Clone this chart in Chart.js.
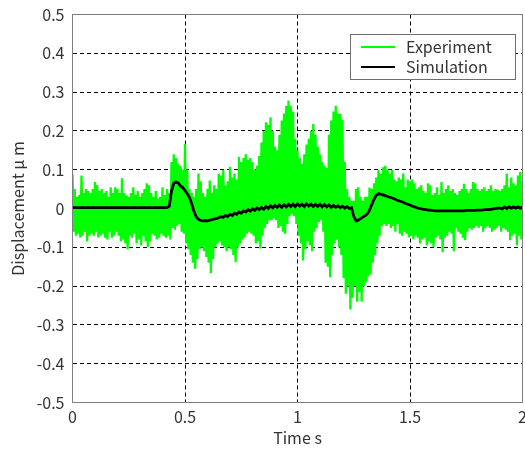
<!DOCTYPE html>
<html><head><meta charset="utf-8">
<script src="https://cdn.jsdelivr.net/npm/chart.js@4.4.1/dist/chart.umd.min.js"></script>
<style>html,body{margin:0;padding:0;background:#fff;}canvas{display:block;}</style>
</head><body>
<canvas id="c" width="525" height="452"></canvas>
<script>
const sampleStep = 0.01;

// Experiment: upper and lower extremes of the noisy trace in each 0.01 s slot (um)
const expHi = [
 0.088,0.05,0.03,0.035,0.085,0.04,0.05,0.045,0.04,0.05,
 0.068,0.06,0.045,0.05,0.04,0.045,0.03,0.055,0.04,0.055,
 0.05,0.04,0.078,0.04,0.034,0.03,0.04,0.055,0.035,0.045,
 0.03,0.04,0.05,0.065,0.06,0.04,0.03,0.045,0.025,0.03,
 0.055,0.035,0.05,0.04,0.12,0.14,0.13,0.115,0.11,0.1,
 0.167,0.1,0.05,0.04,0.03,0.05,0.09,0.07,0.04,0.03,
 0.05,0.072,0.04,0.06,0.05,0.09,0.085,0.1,0.06,0.07,
 0.107,0.08,0.09,0.075,0.133,0.12,0.13,0.14,0.125,0.13,
 0.12,0.1,0.11,0.135,0.17,0.2,0.222,0.215,0.235,0.2,
 0.16,0.15,0.19,0.227,0.245,0.265,0.278,0.265,0.25,0.18,
 0.15,0.13,0.115,0.14,0.165,0.18,0.2,0.218,0.19,0.16,
 0.14,0.12,0.11,0.105,0.19,0.227,0.25,0.265,0.245,0.244,
 0.228,0.12,0.05,0.03,0.02,0.02,0.05,0.055,0.03,0.02,
 0.03,0.03,0.054,0.05,0.065,0.08,0.1,0.09,0.106,0.11,
 0.1,0.09,0.1,0.075,0.07,0.08,0.075,0.09,0.055,0.075,
 0.07,0.075,0.065,0.05,0.055,0.06,0.045,0.04,0.065,0.06,
 0.035,0.04,0.055,0.035,0.068,0.04,0.05,0.06,0.045,0.05,
 0.04,0.035,0.045,0.05,0.064,0.05,0.04,0.05,0.068,0.065,
 0.05,0.045,0.05,0.055,0.045,0.05,0.06,0.045,0.05,0.048,
 0.045,0.05,0.06,0.09,0.055,0.08,0.065,0.06,0.085,0.094,
 0.07
];
const expLo = [
 -0.06,-0.07,-0.065,-0.075,-0.07,-0.06,-0.085,-0.07,-0.065,-0.07,
 -0.06,-0.075,-0.07,-0.065,-0.075,-0.08,-0.06,-0.075,-0.07,-0.06,
 -0.07,-0.085,-0.08,-0.09,-0.105,-0.07,-0.075,-0.065,-0.09,-0.08,
 -0.095,-0.07,-0.085,-0.1,-0.085,-0.065,-0.07,-0.08,-0.075,-0.065,
 -0.07,-0.075,-0.07,-0.08,-0.05,-0.055,-0.045,-0.04,-0.06,-0.065,
 -0.09,-0.105,-0.12,-0.14,-0.155,-0.13,-0.105,-0.1,-0.11,-0.125,
 -0.14,-0.167,-0.13,-0.1,-0.09,-0.085,-0.095,-0.1,-0.11,-0.1,
 -0.105,-0.12,-0.138,-0.1,-0.09,-0.08,-0.075,-0.065,-0.06,-0.065,
 -0.07,-0.09,-0.085,-0.103,-0.07,-0.05,-0.04,-0.03,-0.03,-0.025,
 -0.03,-0.05,-0.045,-0.06,-0.065,-0.04,-0.02,-0.015,-0.02,-0.04,
 -0.07,-0.09,-0.134,-0.105,-0.085,-0.095,-0.11,-0.06,-0.05,-0.035,
 -0.03,-0.06,-0.14,-0.15,-0.177,-0.12,-0.09,-0.08,-0.1,-0.12,
 -0.18,-0.22,-0.2,-0.26,-0.23,-0.2,-0.24,-0.215,-0.24,-0.2,
 -0.19,-0.175,-0.17,-0.14,-0.12,-0.09,-0.07,-0.045,-0.04,-0.045,
 -0.04,-0.05,-0.045,-0.06,-0.04,-0.065,-0.07,-0.06,-0.065,-0.075,
 -0.07,-0.08,-0.07,-0.075,-0.09,-0.08,-0.075,-0.095,-0.085,-0.09,
 -0.1,-0.075,-0.07,-0.08,-0.113,-0.075,-0.07,-0.06,-0.065,-0.11,
 -0.05,-0.06,-0.065,-0.075,-0.082,-0.06,-0.05,-0.055,-0.05,-0.045,
 -0.05,-0.045,-0.06,-0.05,-0.045,-0.05,-0.06,-0.055,-0.05,-0.045,
 -0.06,-0.05,-0.055,-0.06,-0.082,-0.07,-0.065,-0.095,-0.07,-0.08,
 -0.07
];
// Simulation: one value per 0.01 s slot (um)
const simVals = [
 0.002,0.002,0.002,0.002,0.002,0.002,0.002,0.002,0.002,0.002,
 0.002,0.002,0.002,0.002,0.002,0.002,0.002,0.002,0.002,0.002,
 0.002,0.002,0.002,0.002,0.002,0.002,0.002,0.002,0.002,0.002,
 0.002,0.002,0.002,0.002,0.002,0.002,0.002,0.002,0.002,0.002,
 0.002,0.002,0.002,0.006,0.045,0.065,0.068,0.066,0.058,0.054,
 0.046,0.038,0.028,0.012,-0.008,-0.022,-0.028,-0.031,-0.032,-0.031,
 -0.032,-0.03,-0.029,-0.027,-0.026,-0.024,-0.021,-0.023,-0.018,-0.021,
 -0.015,-0.018,-0.012,-0.015,-0.009,-0.012,-0.006,-0.009,-0.003,-0.007,
 -0.001,-0.005,0.001,-0.003,0.003,-0.002,0.005,0.0,0.007,0.002,
 0.008,0.003,0.009,0.003,0.01,0.004,0.011,0.005,0.011,0.005,
 0.012,0.006,0.011,0.005,0.012,0.006,0.011,0.005,0.011,0.005,
 0.011,0.004,0.01,0.004,0.009,0.003,0.008,0.003,0.007,0.002,
 0.006,0.001,0.005,0.0,0.002,-0.02,-0.032,-0.03,-0.026,-0.022,
 -0.019,-0.014,-0.005,0.01,0.024,0.034,0.038,0.037,0.035,0.033,
 0.031,0.029,0.027,0.025,0.022,0.02,0.018,0.016,0.013,0.011,
 0.009,0.006,0.004,0.002,0.0,-0.001,-0.002,-0.003,-0.004,-0.004,
 -0.005,-0.006,-0.006,-0.006,-0.006,-0.006,-0.006,-0.006,-0.006,-0.006,
 -0.006,-0.006,-0.006,-0.006,-0.006,-0.005,-0.005,-0.005,-0.005,-0.005,
 -0.004,-0.004,-0.004,-0.003,-0.003,-0.003,-0.002,-0.001,0.0,0.001,
 0.001,-0.001,0.004,0.0,0.004,0.001,0.004,0.001,0.004,0.001,
 0.003
];
const seriesNames = ['Experiment', 'Simulation'];
const xTicks = [0, 0.5, 1, 1.5, 2];
const xTickLabels = ['0', '0.5', '1', '1.5', '2'];
const yTicks = [-0.5, -0.4, -0.3, -0.2, -0.1, 0, 0.1, 0.2, 0.3, 0.4, 0.5];
const yTickLabels = ['-0.5', '-0.4', '-0.3', '-0.2', '-0.1', '0', '0.1', '0.2', '0.3', '0.4', '0.5'];
const xTitle = 'Time s';
const yTitle = 'Displacement μ m';

// build point tables
const expPts = [];
expHi.forEach((h, i) => {
  expPts.push({x: i * sampleStep, y: h});
  expPts.push({x: i * sampleStep + sampleStep / 2, y: expLo[i]});
});
const simPts = simVals.map((v, i) => ({x: i * sampleStep, y: v}));

const FONT = "'Noto Sans CJK JP', 'Noto Sans', sans-serif";
const TXT = '#333333';

const framePlugin = {
  id: 'frameLegend',
  afterDatasetsDraw(chart) {
    const {ctx, chartArea: a} = chart;
    ctx.save();
    ctx.strokeStyle = '#7f7f7f';
    ctx.lineWidth = 1;
    ctx.strokeRect(a.left, a.top, a.right - a.left, a.bottom - a.top);
    const bx = 350.5, by = 34.5, bw = 165, bh = 45;
    ctx.fillStyle = '#ffffff';
    ctx.fillRect(bx, by, bw, bh);
    ctx.strokeStyle = '#6f6f6f';
    ctx.strokeRect(bx, by, bw, bh);
    ctx.font = '16px ' + FONT;
    ctx.textBaseline = 'middle';
    ctx.textAlign = 'left';
    chart.data.datasets.forEach((ds, i) => {
      const y = 47 + i * 20;
      ctx.strokeStyle = ds.borderColor;
      ctx.lineWidth = 2;
      ctx.beginPath(); ctx.moveTo(361, y); ctx.lineTo(395, y); ctx.stroke();
      ctx.fillStyle = TXT;
      ctx.fillText(ds.label, 406, y);
    });
    ctx.restore();
  }
};

function edgeColor(n) {
  return (c) => (c.index === 0 || c.index === n - 1) ? 'rgba(0,0,0,0)' : '#000000';
}

new Chart(document.getElementById('c'), {
  type: 'line',
  data: {
    datasets: [
      {label: seriesNames[0], data: expPts, borderColor: '#00ff00', borderWidth: 2.3, pointRadius: 0, tension: 0, order: 2},
      {label: seriesNames[1], data: simPts, borderColor: '#000000', borderWidth: 2.8, pointRadius: 0, tension: 0, order: 1}
    ]
  },
  options: {
    responsive: false,
    animation: false,
    devicePixelRatio: 1,
    parsing: false,
    normalized: true,
    layout: {padding: {left: 0, right: 2.5, top: 14.5, bottom: 0}},
    plugins: {legend: {display: false}, tooltip: {enabled: false}},
    scales: {
      x: {
        type: 'linear', min: 0, max: 2,
        afterBuildTicks: (ax) => { ax.ticks = xTicks.map(v => ({value: v})); },
        afterFit: (ax) => { ax.height = 49.5; ax.paddingLeft = 0; ax.paddingRight = 0; },
        ticks: {callback: (v, i) => xTickLabels[i], color: TXT, font: {family: FONT, size: 16}, padding: 5, maxRotation: 0, autoSkip: false},
        grid: {color: edgeColor(xTicks.length), drawTicks: false, lineWidth: 1},
        border: {display: false, dash: [4, 3]},
        title: {display: true, text: xTitle, color: TXT, font: {family: FONT, size: 16}, padding: {top: 0, bottom: 4}}
      },
      y: {
        type: 'linear', min: -0.5, max: 0.5,
        afterBuildTicks: (ax) => { ax.ticks = yTicks.map(v => ({value: v})); },
        afterFit: (ax) => { ax.width = 72.5; ax.paddingTop = 0; ax.paddingBottom = 0; },
        ticks: {callback: (v, i) => yTickLabels[i], color: TXT, font: {family: FONT, size: 16}, padding: 8, autoSkip: false},
        grid: {color: edgeColor(yTicks.length), drawTicks: false, lineWidth: 1},
        border: {display: false, dash: [4, 3]},
        title: {display: true, text: yTitle, color: TXT, font: {family: FONT, size: 16}, padding: {top: 8, bottom: 0}}
      }
    }
  },
  plugins: [framePlugin]
});
</script>
</body></html>
